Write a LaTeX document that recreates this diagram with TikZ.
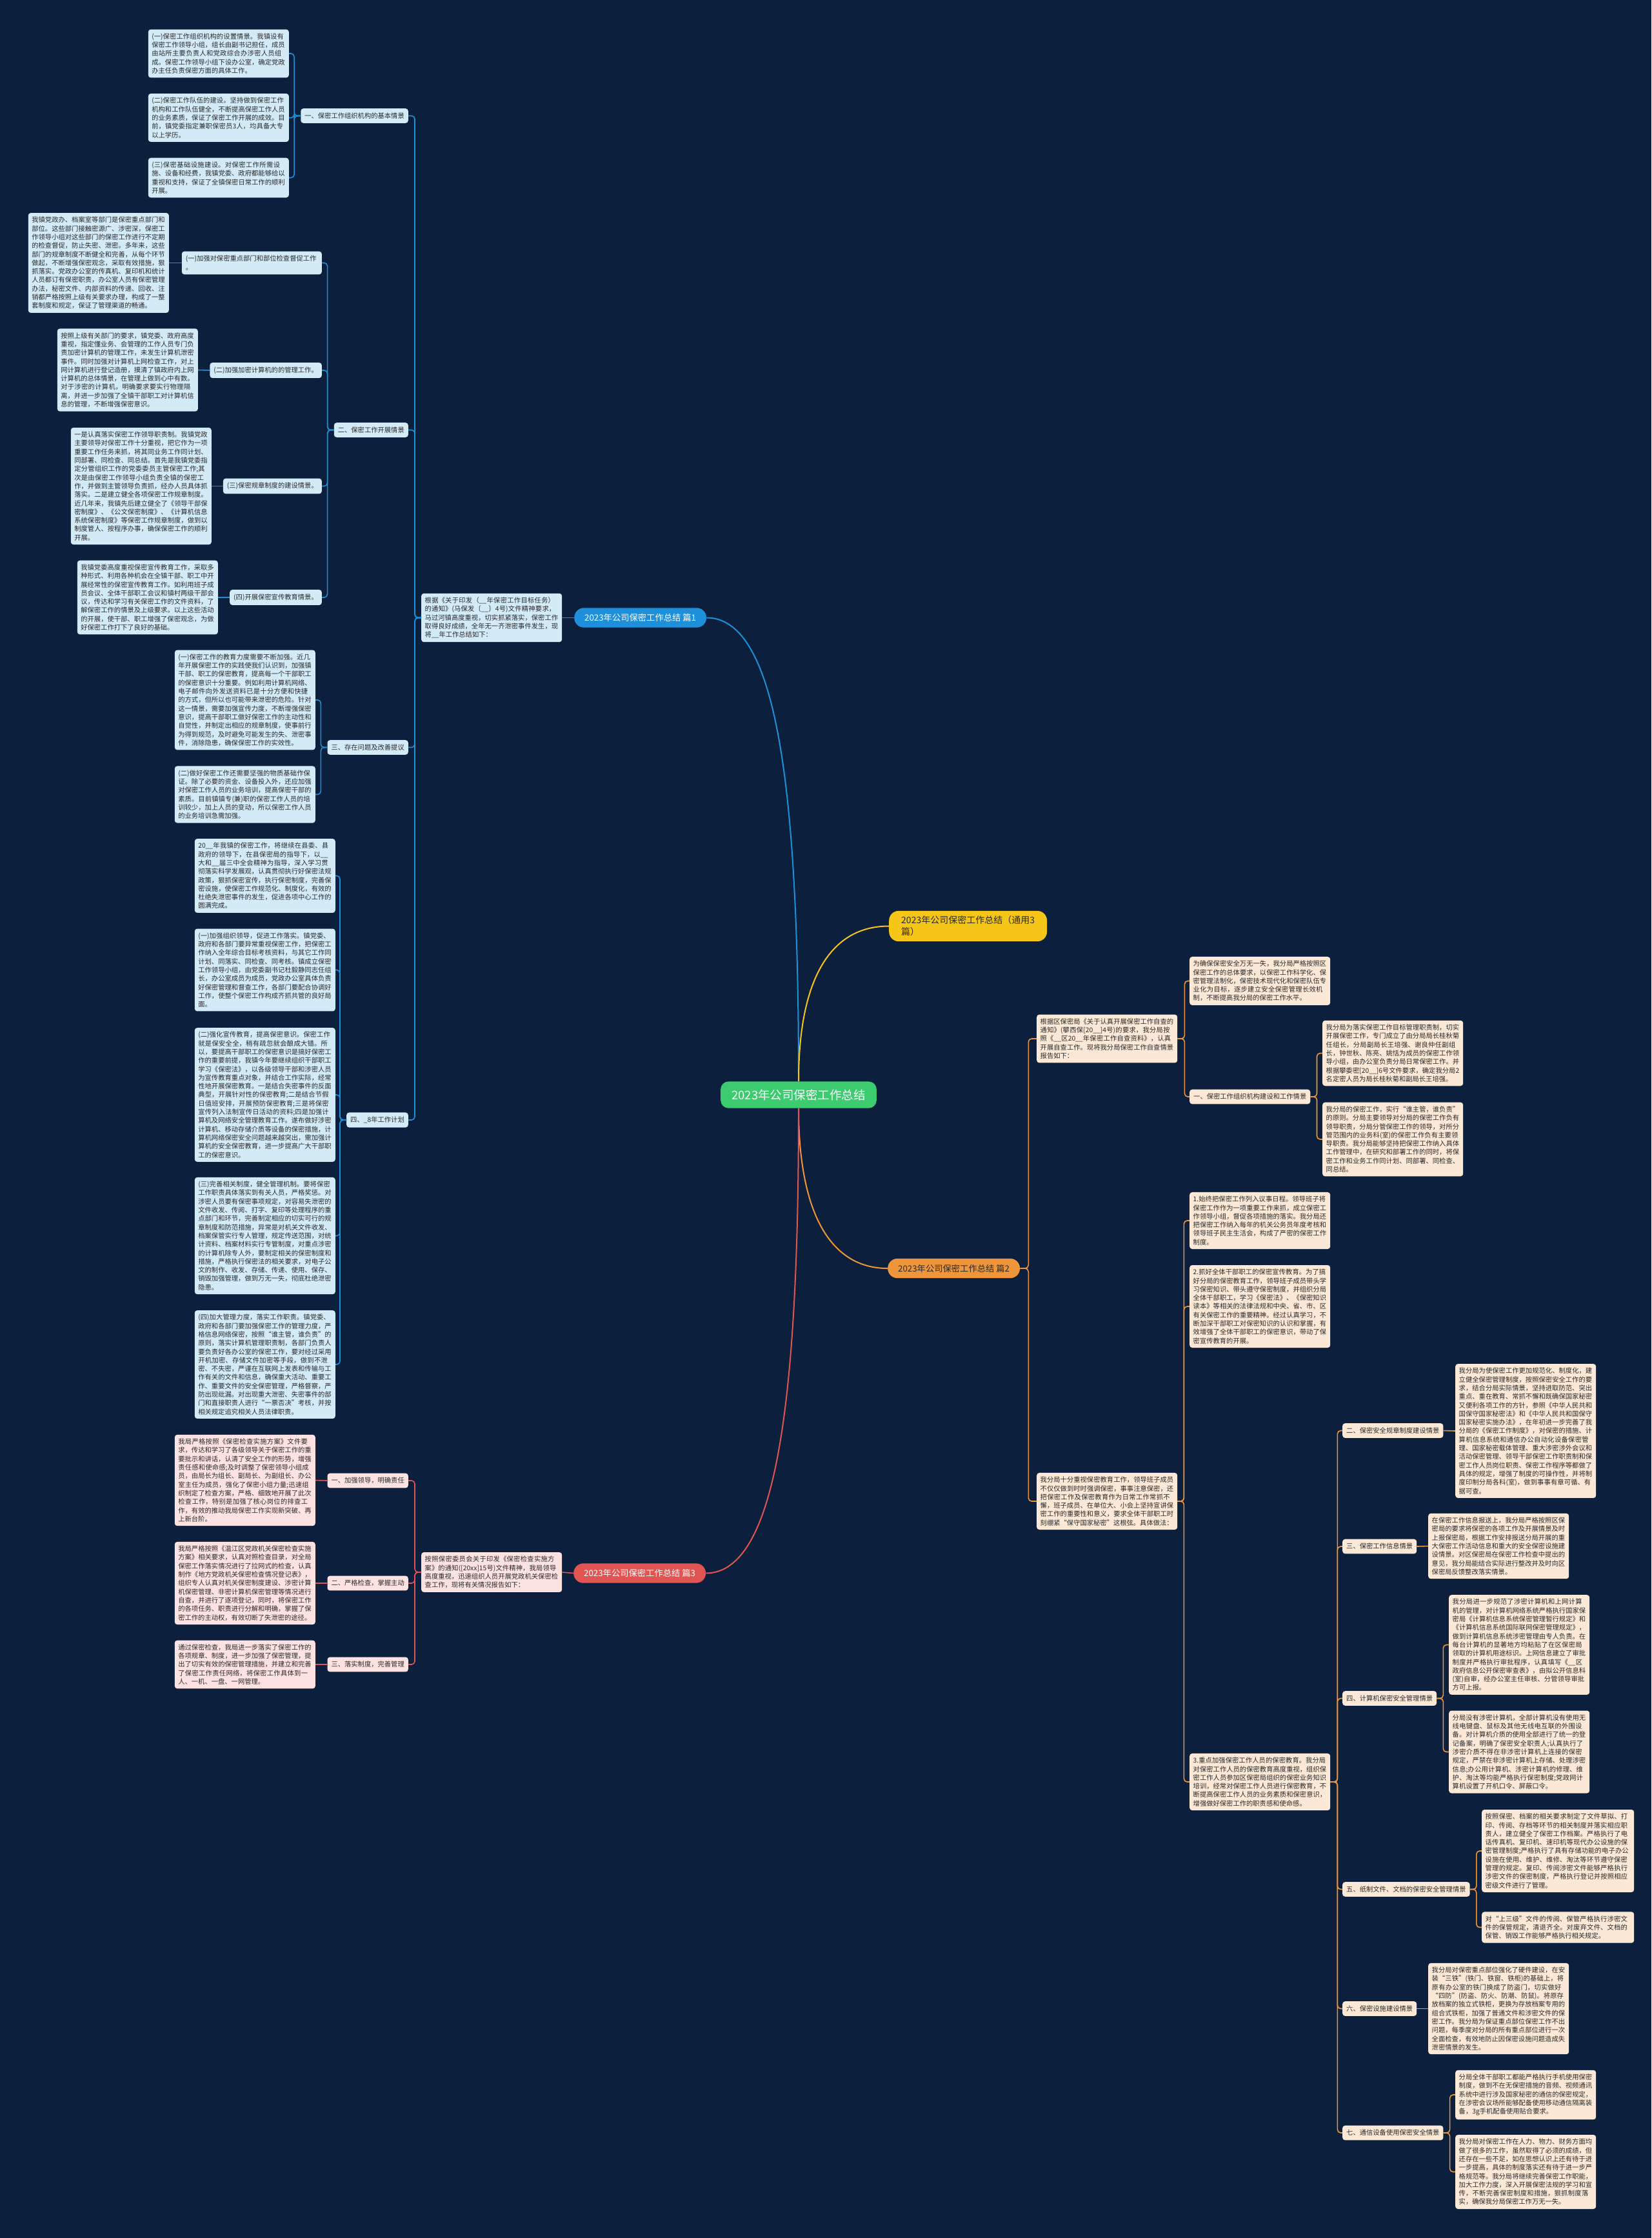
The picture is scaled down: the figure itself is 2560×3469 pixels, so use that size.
\documentclass[tikz,border=0pt]{standalone}
\usepackage{fontspec}
\setmainfont{Noto Sans CJK SC}
\XeTeXlinebreaklocale "zh"
\XeTeXlinebreakskip = 0pt plus 1pt
\usepackage{tikz}
\usetikzlibrary{positioning,calc}
\definecolor{bgnavy}{HTML}{0C203D}
\definecolor{txtdark}{HTML}{2A2A2A}
\definecolor{rootgreen}{HTML}{3DCB6F}
\definecolor{pianblue}{HTML}{1E8FDA}
\definecolor{pianyellow}{HTML}{F5C518}
\definecolor{pianorange}{HTML}{EF963A}
\definecolor{pianred}{HTML}{E05552}
\definecolor{bluefill}{HTML}{D3EAF7}
\definecolor{redfill}{HTML}{FCE3E1}
\definecolor{orangefill}{HTML}{FBE8D6}

\tikzset{
  txtbox/.style={rounded corners=4pt, inner xsep=5.5pt, inner ysep=6pt, text width=207pt,
    align=left, text=txtdark, font=\fontsize{10.3}{13.3}\selectfont},
  headbox/.style={rounded corners=4pt, inner xsep=6pt, inner ysep=6.5pt, text=txtdark,
    font=\fontsize{10.3}{13.3}\selectfont},
  blueleaf/.style={txtbox, fill=bluefill},
  bluehead/.style={headbox, fill=bluefill},
  redleaf/.style={txtbox, fill=redfill},
  redhead/.style={headbox, fill=redfill},
  orangeleaf/.style={txtbox, fill=orangefill},
  orangehead/.style={headbox, fill=orangefill},
  piannode/.style={rounded corners=15pt, inner xsep=16pt, inner ysep=9pt,
    font=\fontsize{13.3}{17}\selectfont},
  bluelink/.style={draw=pianblue, line width=1.6pt, rounded corners=5pt},
  redlink/.style={draw=pianred, line width=1.6pt, rounded corners=5pt},
  orangelink/.style={draw=pianorange, line width=1.6pt, rounded corners=5pt},
}

\begin{document}
\begin{tikzpicture}[x=1pt,y=-1pt]
    % Background
    \fill[bgnavy] (0,0) rectangle (2560,3469);
    \useasboundingbox (0,0) rectangle (2560,3469);

    % Root and main branches
    \node[fill=rootgreen, text=white, rounded corners=12pt, inner xsep=17pt, inner ysep=12pt,
      font=\fontsize{18.5}{22}\selectfont] (root) at (1238,1697) {2023年公司保密工作总结};
    \node[piannode, fill=pianblue, text=white, anchor=west] (p1) at (890,957.5) {2023年公司保密工作总结 篇1};
    \node[piannode, fill=pianyellow, text=txtdark, anchor=west, align=left, inner xsep=19pt, inner ysep=8pt,
      font=\fontsize{14}{18}\selectfont] (ptitle) at (1378,1435.5)
      {2023年公司保密工作总结（通用3\\篇）};
    \node[piannode, fill=pianorange, text=txtdark, anchor=west] (p2) at (1376,1966) {2023年公司保密工作总结 篇2};
    \node[piannode, fill=pianred, text=white, anchor=west] (p3) at (889,2438.5) {2023年公司保密工作总结 篇3};

    \draw[pianblue, line width=2pt] (root.north) .. controls +(0,-450) and +(110,0) .. (p1.east);
    \draw[pianyellow, line width=2pt] (root.north) .. controls +(0,-160) and +(-90,0) .. (ptitle.west);
    \draw[pianorange, line width=2pt] (root.south) .. controls +(0,160) and +(-90,0) .. (p2.west);
    \draw[pianred, line width=2pt] (root.south) .. controls +(0,450) and +(110,0) .. (p3.east);

    % ---------------- 篇1 ----------------
    \node[blueleaf, anchor=west] (p1intro) at (653,957.5) {根据《关于印发（\_\_年保密工作目标任务）的通知》(马保发〔\_\_〕4号)文件精神要求，马过河镇高度重视，切实抓紧落实，保密工作取得良好成绩，全年无一齐泄密事件发生，现将\_\_年工作总结如下：};

    % Section one
    \node[bluehead, anchor=east] (p1s1) at (633,179.5) {一、保密工作组织机构的基本情景};
    \node[blueleaf, anchor=east] (p1s1a) at (448,83) {(一)保密工作组织机构的设置情景。我镇设有保密工作领导小组，组长由副书记担任，成员由站所主要负责人和党政综合办涉密人员组成。保密工作领导小组下设办公室，确定党政办主任负责保密方面的具体工作。};
    \node[blueleaf, anchor=east] (p1s1b) at (448,182.5) {(二)保密工作队伍的建设。坚持做到保密工作机构和工作队伍健全，不断提高保密工作人员的业务素质，保证了保密工作开展的成效。目前，镇党委指定兼职保密员3人，均具备大专以上学历。};
    \node[blueleaf, anchor=east] (p1s1c) at (448,275.5) {(三)保密基础设施建设。对保密工作所需设施、设备和经费，我镇党委、政府都能够给以重视和支持，保证了全镇保密日常工作的顺利开展。};

    % Section two
    \node[bluehead, anchor=east] (p1s2) at (633,666.5) {二、保密工作开展情景};
    \node[bluehead, anchor=east, text width=205pt, align=left] (p1s2h1) at (499,407.5) {(一)加强对保密重点部门和部位检查督促工作\\。};
    \node[blueleaf, anchor=east] (p1s2a) at (262,407.5) {我镇党政办、档案室等部门是保密重点部门和部位。这些部门接触密源广、涉密深，保密工作领导小组对这些部门的保密工作进行不定期的检查督促，防止失密、泄密。多年来，这些部门的规章制度不断健全和完善，从每个环节做起，不断增强保密观念，采取有效措施，狠抓落实。党政办公室的传真机、复印机和统计人员都订有保密职责，办公室人员有保密管理办法，秘密文件、内部资料的传递、回收、注销都严格按照上级有关要求办理，构成了一整套制度和规定，保证了管理渠道的畅通。};
    \node[bluehead, anchor=east] (p1s2h2) at (499,574) {(二)加强加密计算机的的管理工作。};
    \node[blueleaf, anchor=east] (p1s2b) at (307,573.5) {按照上级有关部门的要求，镇党委、政府高度重视，指定懂业务、会管理的工作人员专门负责加密计算机的管理工作，未发生计算机泄密事件。同时加强对计算机上网检查工作，对上网计算机进行登记造册，摸清了镇政府内上网计算机的总体情景，在管理上做到心中有数。对于涉密的计算机，明确要求要实行物理隔离，并进一步加强了全镇干部职工对计算机信息的管理，不断增强保密意识。};
    \node[bluehead, anchor=east] (p1s2h3) at (499,753.5) {(三)保密规章制度的建设情景。};
    \node[blueleaf, anchor=east] (p1s2c) at (328,753.5) {一是认真落实保密工作领导职责制。我镇党政主要领导对保密工作十分重视，把它作为一项重要工作任务来抓，将其同业务工作同计划、同部署、同检查、同总结。首先是我镇党委指定分管组织工作的党委委员主管保密工作;其次是由保密工作领导小组负责全镇的保密工作，并做到主管领导负责抓，经办人员具体抓落实。二是建立健全各项保密工作规章制度。近几年来，我镇先后建立健全了《领导干部保密制度》、《公文保密制度》、《计算机信息系统保密制度》等保密工作规章制度，做到以制度管人、按程序办事，确保保密工作的顺利开展。};
    \node[bluehead, anchor=east] (p1s2h4) at (499,926) {(四)开展保密宣传教育情景。};
    \node[blueleaf, anchor=east] (p1s2d) at (338,926) {我镇党委高度重视保密宣传教育工作，采取多种形式、利用各种机会在全镇干部、职工中开展经常性的保密宣传教育工作。如利用班子成员会议、全体干部职工会议和镇村两级干部会议，传达和学习有关保密工作的文件资料，了解保密工作的情景及上级要求。以上这些活动的开展，使干部、职工增强了保密观念，为做好保密工作打下了良好的基础。};

    % Section three
    \node[bluehead, anchor=east] (p1s3) at (633,1158.5) {三、存在问题及改善提议};
    \node[blueleaf, anchor=east] (p1s3a) at (489,1085) {(一)保密工作的教育力度需要不断加强。近几年开展保密工作的实践使我们认识到，加强镇干部、职工的保密教育，提高每一个干部职工的保密意识十分重要。例如利用计算机网络、电子邮件向外发送资料已是十分方便和快捷的方式，但所以也可能带来泄密的危险。针对这一情景，需要加强宣传力度，不断增强保密意识，提高干部职工做好保密工作的主动性和自觉性，并制定出相应的规章制度，使事前行为得到规范，及时避免可能发生的失、泄密事件，消除隐患，确保保密工作的实效性。};
    \node[blueleaf, anchor=east] (p1s3b) at (489,1231.5) {(二)做好保密工作还需要坚强的物质基础作保证。除了必要的资金、设备投入外，还应加强对保密工作人员的业务培训，提高保密干部的素质。目前镇镇专(兼)职的保密工作人员的培训较少，加上人员的变动，所以保密工作人员的业务培训急需加强。};

    % Section four
    \node[bluehead, anchor=east] (p1s4) at (633,1736) {四、\_8年工作计划};
    \node[blueleaf, anchor=east] (p1s4a) at (520,1357.5) {20\_\_年我镇的保密工作，将继续在县委、县政府的领导下，在县保密局的指导下，以\_\_大和\_\_届三中全会精神为指导，深入学习贯彻落实科学发展观，认真贯彻执行好保密法规政策，狠抓保密宣传，执行保密制度，完善保密设施，使保密工作规范化、制度化，有效的杜绝失泄密事件的发生，促进各项中心工作的圆满完成。};
    \node[blueleaf, anchor=east] (p1s4b) at (520,1503.5) {(一)加强组织领导，促进工作落实。镇党委、政府和各部门要异常重视保密工作，把保密工作纳入全年综合目标考核资料，与其它工作同计划、同落实、同检查、同考核。镇成立保密工作领导小组，由党委副书记杜毅静同志任组长，办公室成员为成员，党政办公室具体负责好保密管理和督查工作，各部门要配合协调好工作，使整个保密工作构成齐抓共管的良好局面。};
    \node[blueleaf, anchor=east] (p1s4c) at (520,1697) {(二)强化宣传教育，提高保密意识。保密工作就是保安全全，稍有疏忽就会酿成大错。所以，要提高干部职工的保密意识是搞好保密工作的重要前提，我镇今年要继续组织干部职工学习《保密法》，以各级领导干部和涉密人员为宣传教育重点对象，并结合工作实际，经常性地开展保密教育。一是结合失密事件的反面典型，开展针对性的保密教育;二是结合节假日值班安排，开展预防保密教育;三是将保密宣传列入法制宣传日活动的资料;四是加强计算机及网络安全管理教育工作。遂布做好涉密计算机、移动存储介质等设备的保密措施，计算机网络保密安全问题越来越突出，需加强计算机的安全保密教育，进一步提高广大干部职工的保密意识。};
    \node[blueleaf, anchor=east] (p1s4d) at (520,1915.5) {(三)完善相关制度，健全管理机制。要将保密工作职责具体落实到有关人员，严格奖惩。对涉密人员要有保密事项规定，对容易失泄密的文件收发、传阅、打字、复印等处理程序的重点部门和环节，完善制定相应的切实可行的规章制度和防范措施，异常是对机关文件收发、档案保管实行专人管理，规定传送范围，对统计资料、档案材料实行专管制度，对重点涉密的计算机除专人外，要制定相关的保密制度和措施，严格执行保密法的相关要求，对电子公文的制作、收发、存储、传递、使用、保存、销毁加强管理，做到万无一失，彻底杜绝泄密隐患。};
    \node[blueleaf, anchor=east] (p1s4e) at (520,2115) {(四)加大管理力度，落实工作职责。镇党委、政府和各部门要加强保密工作的管理力度，严格信息网络保密，按照“谁主管，谁负责”的原则，落实计算机管理职责制，各部门负责人要负责好各办公室的保密工作，要对经过采用开机加密、存储文件加密等手段，做到不泄密、不失密，严谨在互联网上发表和传输与工作有关的文件和信息，确保重大活动、重要工作、重要文件的安全保密管理，严格督察，严防出现纰漏。对出现重大泄密、失密事件的部门和直接职责人进行“一票否决”考核，并按相关规定追究相关人员法律职责。};

    % Links 篇1
    \draw[bluelink] (p1.west) -- (p1intro.east);
    \draw[bluelink] (p1intro.west) -- ++(-10,0) |- (p1s1.east);
    \draw[bluelink] (p1intro.west) -- ++(-10,0) |- (p1s2.east);
    \draw[bluelink] (p1intro.west) -- ++(-10,0) |- (p1s3.east);
    \draw[bluelink] (p1intro.west) -- ++(-10,0) |- (p1s4.east);
    \draw[bluelink] (p1s1.west) -- ++(-10,0) |- (p1s1a.east);
    \draw[bluelink] (p1s1.west) -- ++(-10,0) |- (p1s1b.east);
    \draw[bluelink] (p1s1.west) -- ++(-10,0) |- (p1s1c.east);
    \draw[bluelink] (p1s2.west) -- ++(-10,0) |- (p1s2h1.east);
    \draw[bluelink] (p1s2.west) -- ++(-10,0) |- (p1s2h2.east);
    \draw[bluelink] (p1s2.west) -- ++(-10,0) |- (p1s2h3.east);
    \draw[bluelink] (p1s2.west) -- ++(-10,0) |- (p1s2h4.east);
    \draw[bluelink] (p1s2h1.west) -- (p1s2a.east);
    \draw[bluelink] (p1s2h2.west) -- (p1s2b.east);
    \draw[bluelink] (p1s2h3.west) -- (p1s2c.east);
    \draw[bluelink] (p1s2h4.west) -- (p1s2d.east);
    \draw[bluelink] (p1s3.west) -- ++(-10,0) |- (p1s3a.east);
    \draw[bluelink] (p1s3.west) -- ++(-10,0) |- (p1s3b.east);
    \draw[bluelink] (p1s4.west) -- ++(-10,0) |- (p1s4a.east);
    \draw[bluelink] (p1s4.west) -- ++(-10,0) |- (p1s4b.east);
    \draw[bluelink] (p1s4.west) -- ++(-10,0) |- (p1s4c.east);
    \draw[bluelink] (p1s4.west) -- ++(-10,0) |- (p1s4d.east);
    \draw[bluelink] (p1s4.west) -- ++(-10,0) |- (p1s4e.east);

    % ---------------- 篇3 ----------------
    \node[redleaf, anchor=west] (p3intro) at (653,2437) {按照保密委员会关于印发《保密检查实施方案》的通知([20xx]15号)文件精神，我局领导高度重视，迅速组织人员开展党政机关保密检查工作，现将有关情况报告如下：};
    \node[redhead, anchor=east] (p3s1) at (633,2295) {一、加强领导，明确责任};
    \node[redleaf, anchor=east] (p3s1a) at (489,2294.5) {我局严格按照《保密检查实施方案》文件要求，传达和学习了各级领导关于保密工作的重要批示和讲话，认清了安全工作的形势，增强责任感和使命感;及时调整了保密领导小组成员，由局长为组长、副局长、为副组长、办公室主任为成员，强化了保密小组力量;迅速组织制定了检查方案，严格、细致地开展了此次检查工作，特别是加强了核心岗位的排查工作，有效的推动我局保密工作实现新突破、再上新台阶。};
    \node[redhead, anchor=east] (p3s2) at (633,2454) {二、严格检查，掌握主动};
    \node[redleaf, anchor=east] (p3s2a) at (489,2454) {我局严格按照《温江区党政机关保密检查实施方案》相关要求，认真对照检查目录，对全局保密工作落实情况进行了拉网式的检查，认真制作《地方党政机关保密检查情况登记表》，组织专人认真对机关保密制度建设、涉密计算机保密管理、非密计算机保密管理等情况进行自查，并进行了逐项登记，同时，将保密工作的各项任务、职责进行分解和明确，掌握了保密工作的主动权，有效切断了失泄密的途径。};
    \node[redhead, anchor=east] (p3s3) at (633,2580) {三、落实制度，完善管理};
    \node[redleaf, anchor=east] (p3s3a) at (489,2580) {通过保密检查，我局进一步落实了保密工作的各项规章、制度，进一步加强了保密管理，提出了切实有效的保密管理措施，并建立和完善了保密工作责任网络，将保密工作具体到一人、一机、一盘、一网管理。};

    % Links 篇3
    \draw[redlink] (p3.west) -- (p3intro.east);
    \draw[redlink] (p3intro.west) -- ++(-10,0) |- (p3s1.east);
    \draw[redlink] (p3intro.west) -- ++(-10,0) |- (p3s2.east);
    \draw[redlink] (p3intro.west) -- ++(-10,0) |- (p3s3.east);
    \draw[redlink] (p3s1.west) -- (p3s1a.east);
    \draw[redlink] (p3s2.west) -- (p3s2a.east);
    \draw[redlink] (p3s3.west) -- (p3s3a.east);

    % ---------------- 篇2 ----------------
    \node[orangeleaf, anchor=west] (p2intro) at (1607,1610) {根据区保密局《关于认真开展保密工作自查的通知》(攀西保[20\_\_]4号)的要求，我分局按照《\_\_区20\_\_年保密工作自查资料》，认真开展自查工作。现将我分局保密工作自查情景报告如下：};
    \node[orangeleaf, anchor=west] (p2a) at (1844,1520.5) {为确保保密安全万无一失，我分局严格按照区保密工作的总体要求，以保密工作科学化、保密管理法制化，保密技术现代化和保密队伍专业化为目标，逐步建立安全保密管理长效机制，不断提高我分局的保密工作水平。};
    \node[orangehead, anchor=west] (p2b) at (1844,1700) {一、保密工作组织机构建设和工作情景};
    \node[orangeleaf, anchor=west] (p2b1) at (2050,1632.5) {我分局为落实保密工作目标管理职责制，切实开展保密工作，专门成立了由分局局长桂秋菊任组长，分局副局长王培强、谢良仲任副组长，钟世秋、陈亮、姚恬为成员的保密工作领导小组，由办公室负责分局日常保密工作。并根据攀委密[20\_\_]6号文件要求，确定我分局2名定密人员为局长桂秋菊和副局长王培强。};
    \node[orangeleaf, anchor=west] (p2b2) at (2050,1766) {我分局的保密工作，实行“谁主管，谁负责”的原则。分局主要领导对分局的保密工作负有领导职责，分局分管保密工作的领导，对所分管范围内的业务科(室)的保密工作负有主要领导职责。我分局能够坚持把保密工作纳入具体工作管理中，在研究和部署工作的同时，将保密工作和业务工作同计划、同部署、同检查、同总结。};

    \node[orangeleaf, anchor=west] (p2edu) at (1607,2327) {我分局十分重视保密教育工作，领导班子成员不仅仅做到时时强调保密，事事注意保密，还把保密工作及保密教育作为日常工作常抓不懈，班子成员、在单位大、小会上坚持宣讲保密工作的重要性和意义，要求全体干部职工时刻绷紧“保守国家秘密”这根弦。具体做法：};
    \node[orangeleaf, anchor=west] (p2e1) at (1844,1892) {1.始终把保密工作列入议事日程。领导班子将保密工作作为一项重要工作来抓，成立保密工作领导小组，督促各项措施的落实。我分局还把保密工作纳入每年的机关公务员年度考核和领导班子民主生活会，构成了严密的保密工作制度。};
    \node[orangeleaf, anchor=west] (p2e2) at (1844,2025) {2.抓好全体干部职工的保密宣传教育。为了搞好分局的保密教育工作，领导班子成员带头学习保密知识、带头遵守保密制度，并组织分局全体干部职工，学习《保密法》、《保密知识读本》等相关的法律法规和中央、省、市、区有关保密工作的重要精神。经过认真学习，不断加深干部职工对保密知识的认识和掌握，有效增强了全体干部职工的保密意识，带动了保密宣传教育的开展。};
    \node[orangeleaf, anchor=west] (p2e3) at (1844,2762) {3.重点加强保密工作人员的保密教育。我分局对保密工作人员的保密教育高度重视，组织保密工作人员参加区保密局组织的保密业务知识培训，经常对保密工作人员进行保密教育，不断提高保密工作人员的业务素质和保密意识，增强做好保密工作的职责感和使命感。};

    \node[orangehead, anchor=west] (p2f2) at (2081,2217.5) {二、保密安全规章制度建设情景};
    \node[orangeleaf, anchor=west] (p2f2a) at (2256,2218) {我分局为使保密工作更加规范化、制度化，建立健全保密管理制度，按照保密安全工作的要求，结合分局实际情景，坚持进取防范、突出重点、重在教育、常抓不懈和既确保国家秘密又便利各项工作的方针，参照《中华人民共和国保守国家秘密法》和《中华人民共和国保守国家秘密实施办法》，在年初进一步完善了我分局的《保密工作制度》，对保密的措施、计算机信息系统和通信办公自动化设备保密管理、国家秘密载体管理、重大涉密涉外会议和活动保密管理、领导干部保密工作职责制和保密工作人员岗位职责、保密工作程序等都做了具体的规定，增强了制度的可操作性，并将制度印制分局各科(室)，做到事事有章可循、有据可查。};
    \node[orangehead, anchor=west] (p2f3) at (2081,2397) {三、保密工作信息情景};
    \node[orangeleaf, anchor=west] (p2f3a) at (2214,2396.5) {在保密工作信息报送上，我分局严格按照区保密局的要求将保密的各项工作及开展情景及时上报保密局，根据工作安排报送分局开展的重大保密工作活动信息和重大的安全保密设施建设情景。对区保密局在保密工作检查中提出的意见，我分局能结合实际进行整改并及时向区保密局反馈整改落实情景。};
    \node[orangehead, anchor=west] (p2f4) at (2081,2632.5) {四、计算机保密安全管理情景};
    \node[orangeleaf, anchor=west] (p2f4a) at (2246,2549.5) {我分局进一步规范了涉密计算机和上网计算机的管理，对计算机网络系统严格执行国家保密局《计算机信息系统保密管理暂行规定》和《计算机信息系统国际联网保密管理规定》，做到计算机信息系统涉密管理由专人负责。在每台计算机的显著地方均粘贴了在区保密局领取的计算机用途标识。上网信息建立了审批制度并严格执行审批程序，认真填写《\_\_区政府信息公开保密审查表》，由拟公开信息科(室)自审，经办公室主任审核、分管领导审批方可上报。};
    \node[orangeleaf, anchor=west] (p2f4b) at (2246,2715.5) {分局没有涉密计算机，全部计算机没有使用无线电键盘、鼠标及其他无线电互联的外围设备。对计算机介质的使用全部进行了统一的登记备案，明确了保密安全职责人;认真执行了涉密介质不得在非涉密计算机上连接的保密规定，严禁在非涉密计算机上存储、处理涉密信息;办公用计算机、涉密计算机的修理、维护、淘汰等均能严格执行保密制度;党政网计算机设置了开机口令、屏蔽口令。};
    \node[orangehead, anchor=west] (p2f5) at (2081,2928.5) {五、纸制文件、文档的保密安全管理情景};
    \node[orangeleaf, anchor=west, text width=225pt] (p2f5a) at (2297,2869) {按照保密、档案的相关要求制定了文件草拟、打印、传阅、存档等环节的相关制度并落实相应职责人，建立健全了保密工作档案。严格执行了电话传真机、复印机、速印机等现代办公设施的保密管理制度;严格执行了具有存储功能的电子办公设施在使用、维护、维修、淘汰等环节遵守保密管理的规定。复印、传阅涉密文件能够严格执行涉密文件的保密制度，严格执行登记并按照相应密级文件进行了管理。};
    \node[orangeleaf, anchor=west, text width=225pt] (p2f5b) at (2297,2987.5) {对“上三级”文件的传阅、保管严格执行涉密文件的保管规定，清退齐全。对废弃文件、文档的保管、销毁工作能够严格执行相关规定。};
    \node[orangehead, anchor=west] (p2f6) at (2081,3113.5) {六、保密设施建设情景};
    \node[orangeleaf, anchor=west] (p2f6a) at (2214,3113.5) {我分局对保密重点部位强化了硬件建设，在安装“三铁”(铁门、铁窗、铁柜)的基础上，将原有办公室的铁门换成了防盗门，切实做好“四防”(防盗、防火、防潮、防鼠)。将原存放档案的独立式铁柜，更换为存放档案专用的组合式铁柜，加强了普通文件和涉密文件的保密工作。我分局为保证重点部位保密工作不出问题，每季度对分局的所有重点部位进行一次全面检查，有效地防止因保密设施问题造成失泄密情景的发生。};
    \node[orangehead, anchor=west] (p2f7) at (2081,3306) {七、通信设备使用保密安全情景};
    \node[orangeleaf, anchor=west] (p2f7a) at (2256,3247) {分局全体干部职工都能严格执行手机使用保密制度，做到不在无保密措施的音频、视频通讯系统中进行涉及国家秘密的通信的保密规定，在涉密会议场所能够配备使用移动通信隔离装备，3g手机配备使用贴合要求。};
    \node[orangeleaf, anchor=west] (p2f7b) at (2256,3366.5) {我分局对保密工作在人力、物力、财务方面均做了很多的工作，虽然取得了必须的成绩，但还存在一些不足，如在思想认识上还有待于进一步提高，具体的制度落实还有待于进一步严格规范等。我分局将继续完善保密工作职能，加大工作力度，深入开展保密法规的学习和宣传，不断完善保密制度和措施，狠抓制度落实，确保我分局保密工作万无一失。};

    % Links 篇2
    \draw[orangelink] (p2.east) -- ++(13,0) |- (p2intro.west);
    \draw[orangelink] (p2.east) -- ++(13,0) |- (p2edu.west);
    \draw[orangelink] (p2intro.east) -- ++(11,0) |- (p2a.west);
    \draw[orangelink] (p2intro.east) -- ++(11,0) |- (p2b.west);
    \draw[orangelink] (p2b.east) -- ++(10,0) |- (p2b1.west);
    \draw[orangelink] (p2b.east) -- ++(10,0) |- (p2b2.west);
    \draw[orangelink] (p2edu.east) -- ++(10,0) |- (p2e1.west);
    \draw[orangelink] (p2edu.east) -- ++(10,0) |- (p2e2.west);
    \draw[orangelink] (p2edu.east) -- ++(10,0) |- (p2e3.west);
    \draw[orangelink] (p2e3.east) -- ++(11,0) |- (p2f2.west);
    \draw[orangelink] (p2e3.east) -- ++(11,0) |- (p2f3.west);
    \draw[orangelink] (p2e3.east) -- ++(11,0) |- (p2f4.west);
    \draw[orangelink] (p2e3.east) -- ++(11,0) |- (p2f5.west);
    \draw[orangelink] (p2e3.east) -- ++(11,0) |- (p2f6.west);
    \draw[orangelink] (p2e3.east) -- ++(11,0) |- (p2f7.west);
    \draw[orangelink] (p2f2.east) -- (p2f2a.west);
    \draw[orangelink] (p2f3.east) -- (p2f3a.west);
    \draw[orangelink] (p2f4.east) -- ++(10,0) |- (p2f4a.west);
    \draw[orangelink] (p2f4.east) -- ++(10,0) |- (p2f4b.west);
    \draw[orangelink] (p2f5.east) -- ++(10,0) |- (p2f5a.west);
    \draw[orangelink] (p2f5.east) -- ++(10,0) |- (p2f5b.west);
    \draw[orangelink] (p2f6.east) -- (p2f6a.west);
    \draw[orangelink] (p2f7.east) -- ++(10,0) |- (p2f7a.west);
    \draw[orangelink] (p2f7.east) -- ++(10,0) |- (p2f7b.west);
\end{tikzpicture}
\end{document}
